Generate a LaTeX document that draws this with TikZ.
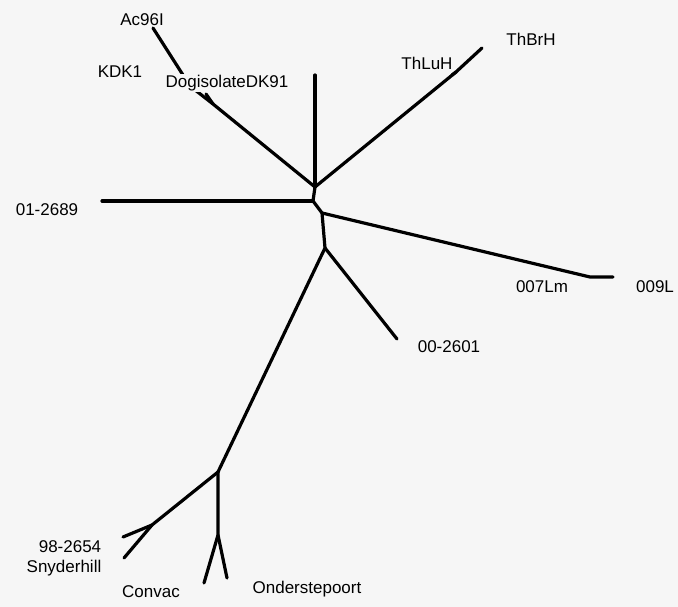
\documentclass[tikz,border=0pt]{standalone}
\usepackage{fontspec}
\setmainfont{Liberation Sans}
\definecolor{bg}{gray}{0.965}
\begin{document}
\begin{tikzpicture}[x=1pt,y=-1pt,
  branch/.style={line width=3.2pt,line cap=round,line join=round,draw=black},
  lbl/.style={font=\fontsize{17}{20}\selectfont,inner sep=0pt,text=black}]
\fill[bg] (0,0) rectangle (678,607);
\useasboundingbox (0,0) rectangle (678,607);
% junctions
\coordinate (J1) at (315,187);
\coordinate (J2) at (313,201);
\coordinate (J3) at (322,213);
\coordinate (J4) at (325,248);
\coordinate (J5) at (218,472);
\coordinate (J6) at (152,525);
\coordinate (J7) at (218,535);
\coordinate (JF) at (213,104);
\coordinate (JK) at (190,86);
\coordinate (JT) at (456,72);
\coordinate (JL) at (590,277);
% tips
\coordinate (tAc) at (153,28);
\coordinate (tKDK) at (186,84);
\coordinate (tDK) at (206,94);
\coordinate (tTop) at (315,75);
\coordinate (tBr) at (482,48);
\coordinate (tLu) at (452,75);
\coordinate (t01) at (102,201);
\coordinate (t009) at (613,277);
\coordinate (t00) at (397,339);
\coordinate (t98) at (123,537);
\coordinate (tSny) at (124,558);
\coordinate (tCon) at (204,583);
\coordinate (tOnd) at (227,578);
% branches
\draw[branch] (J1) -- (J2) -- (J3) -- (J4) -- (J5);
\draw[branch] (J1) -- (JF) -- (JK) -- (tAc);
\draw[branch] (JK) -- (tKDK);
\draw[branch] (JF) -- (tDK);
\draw[branch] (J1) -- (tTop);
\draw[branch] (J1) -- (JT) -- (tBr);
\draw[branch] (JT) -- (tLu);
\draw[branch] (J2) -- (t01);
\draw[branch] (J3) -- (JL) -- (t009);
\draw[branch] (J4) -- (t00);
\draw[branch] (J5) -- (J6) -- (tSny);
\draw[branch] (J6) -- (t98);
\draw[branch] (J5) -- (J7) -- (tCon);
\draw[branch] (J7) -- (tOnd);
% labels
\node[lbl] (lAc) at (142,20) {Ac96I};
\node[lbl] (lKDK) at (120,72) {KDK1};
\node[lbl,fill=bg,inner sep=1.5pt] (lDK) at (227,83) {DogisolateDK91};
\node[lbl] (lBr) at (531,39) {ThBrH};
\node[lbl] (lLu) at (427,63) {ThLuH};
\node[lbl] (l01) at (47,210) {01-2689};
\node[lbl] (l007) at (542,287) {007Lm};
\node[lbl] (l009) at (655,287) {009L};
\node[lbl] (l00) at (449,347) {00-2601};
\node[lbl] (l98) at (70,547) {98-2654};
\node[lbl] (lSny) at (64,568) {Snyderhill};
\node[lbl] (lCon) at (151,592) {Convac};
\node[lbl] (lOnd) at (307,589) {Onderstepoort};
\end{tikzpicture}
\end{document}
